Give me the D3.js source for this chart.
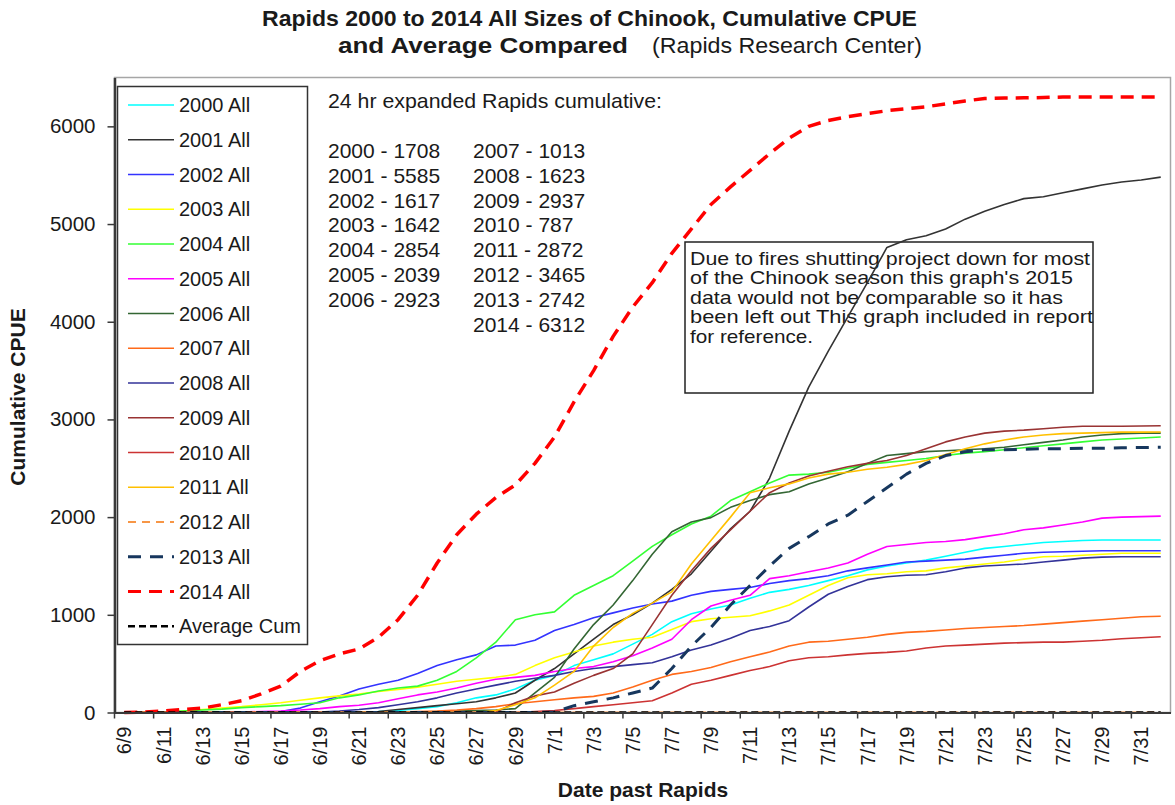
<!DOCTYPE html>
<html>
<head>
<meta charset="utf-8">
<script src="https://cdn.jsdelivr.net/npm/d3@7"></script>
<style>
  body { margin: 0; background: #fff; }
  svg text { font-family: "Liberation Sans", Arial, sans-serif; fill: #1a1a1a; }
</style>
</head>
<body>
<svg id="chart" width="1175" height="805"></svg>
<script>
// categories: days past Rapids, 6/9 .. 8/1
const dates = [
  "6/9","6/10","6/11","6/12","6/13","6/14","6/15","6/16","6/17","6/18","6/19","6/20","6/21","6/22",
  "6/23","6/24","6/25","6/26","6/27","6/28","6/29","6/30",
  "7/1","7/2","7/3","7/4","7/5","7/6","7/7","7/8","7/9","7/10","7/11","7/12","7/13","7/14","7/15",
  "7/16","7/17","7/18","7/19","7/20","7/21","7/22","7/23","7/24","7/25","7/26","7/27","7/28","7/29",
  "7/30","7/31","8/1"
];
// every second day is labelled
const xTickLabels = dates.filter((d, i) => i % 2 === 0 && i < 53);
const yTicks = [0, 1000, 2000, 3000, 4000, 5000, 6000];

// cumulative CPUE per season
const s2000 = [0,0,0,0,0,0,0,0,0,0, 0,0,5,10,20,40,60,100,150,180, 240,330,380,480,540,600,700,800,930,1010,
  1060,1100,1170,1230,1260,1300,1350,1400,1460,1500, 1530,1560,1600,1640,1680,1700,1720,1740,1750,1760, 1765,1765,1765,1765];
const s2001 = [0,0,0,0,0,0,0,0,0,0, 0,0,0,10,30,50,70,90,110,150, 200,330,450,600,750,900,1000,1120,1260,1420,
  1650,1880,2060,2400,2880,3330,3700,4050,4400,4760, 4840,4880,4950,5050,5130,5200,5260,5280,5320,5360, 5400,5430,5450,5480];
const s2002 = [0,0,0,0,0,0,0,0,10,45, 110,170,240,290,330,400,480,540,590,680, 690,740,840,900,970,1020,1070,1110,1140,1200,
  1240,1260,1280,1320,1350,1370,1400,1450,1480,1510, 1540,1550,1560,1570,1590,1610,1630,1640,1645,1650, 1655,1655,1655,1655];
const s2003 = [0,0,5,15,30,45,60,80,100,125, 150,170,190,215,235,260,290,320,340,360, 390,480,560,620,680,720,750,770,850,930,
  960,975,990,1040,1100,1200,1300,1380,1410,1420, 1440,1450,1480,1500,1520,1540,1570,1595,1600,1610, 1620,1630,1630,1630];
const s2004 = [0,0,5,15,25,35,50,60,70,85, 100,150,180,220,250,270,330,420,560,720, 950,1000,1030,1200,1300,1400,1550,1700,1820,1930,
  2010,2170,2260,2350,2430,2440,2460,2500,2540,2560, 2580,2600,2630,2655,2670,2690,2710,2730,2750,2770, 2790,2800,2810,2820];
const s2005 = [0,0,0,0,0,0,5,10,15,25, 40,60,75,100,140,180,210,250,300,340, 360,380,420,450,470,520,580,660,750,950,
  1090,1150,1200,1370,1400,1440,1480,1530,1620,1700, 1720,1740,1750,1770,1800,1830,1870,1890,1920,1950, 1990,2000,2005,2010];
const s2006 = [0,0,0,0,0,0,0,0,0,0, 0,0,0,0,0,5,10,15,20,25, 40,200,360,650,900,1100,1350,1620,1850,1950,
  1995,2100,2170,2230,2260,2340,2400,2465,2550,2630, 2650,2670,2680,2690,2700,2715,2740,2765,2790,2820, 2840,2855,2860,2860];
const s2007 = [0,0,0,0,0,0,0,0,0,0, 0,0,0,0,5,10,15,25,40,60, 90,110,130,150,165,200,260,330,390,420,
  460,520,570,620,680,720,730,750,770,800, 820,830,845,860,870,880,890,905,920,935, 950,965,980,985];
const s2008 = [0,0,0,0,0,0,0,0,0,0, 5,15,30,50,80,110,150,200,240,280, 320,350,380,420,450,470,490,510,570,640,
  690,760,840,880,940,1080,1210,1290,1360,1390, 1405,1410,1440,1480,1500,1510,1520,1540,1560,1580, 1590,1595,1595,1595];
const s2009 = [0,0,0,0,0,0,0,0,0,0, 0,0,0,0,0,0,0,0,0,5, 100,170,210,300,380,450,600,900,1200,1450,
  1680,1870,2060,2250,2350,2420,2470,2515,2550,2580, 2630,2700,2770,2820,2860,2880,2890,2905,2920,2930, 2930,2930,2932,2935];
const s2010 = [0,0,0,0,0,0,0,0,0,0, 0,0,0,0,0,0,0,0,0,0, 0,10,20,40,60,80,100,120,200,290,
  330,380,430,470,530,560,570,590,605,615, 630,660,680,690,700,710,715,720,720,730, 740,755,765,775];
const s2011 = [0,0,0,0,0,0,0,0,0,0, 0,0,0,0,0,0,0,0,0,20, 80,150,280,420,680,870,1015,1120,1235,1520,
  1760,2000,2250,2300,2340,2400,2440,2460,2490,2510, 2540,2580,2640,2700,2750,2790,2820,2840,2855,2860, 2865,2870,2870,2872];
const s2012 = [0,0,0,0,0,0,0,0,0,0, 0,0,0,0,0,0,0,0,0,0, 0,0,0,0,0,0,0,0,0,0,
  0,0,0,0,0,0,0,0,0,0, 0,0,0,0,0,0,0,0,0,0, 0,0,0,0];
const s2013 = [0,0,0,0,0,0,0,0,0,0, 0,0,0,0,0,0,0,0,0,0, 0,0,5,70,110,150,200,250,450,680,
  870,1100,1300,1500,1680,1800,1930,2020,2160,2300, 2440,2550,2630,2670,2690,2690,2695,2700,2700,2705, 2705,2710,2712,2715];
const s2014 = [0,5,15,30,45,80,120,190,270,420, 530,600,650,770,950,1200,1530,1820,2030,2200, 2330,2550,2820,3180,3500,3850,4150,4400,4700,4950,
  5200,5380,5550,5720,5880,6000,6060,6100,6130,6160, 6180,6200,6230,6260,6285,6290,6292,6295,6300,6300, 6300,6300,6300,6300];
const avgCum = [0,0,0,0,0,0,0,0,0,0, 0,0,0,0,0,0,0,0,0,0, 0,0,0,0,0,0,0,0,0,0,
  0,0,0,0,0,0,0,0,0,0, 0,0,0,0,0,0,0,0,0,0, 0,0,0,0];

const seriesNames = ["2000 All","2001 All","2002 All","2003 All","2004 All","2005 All","2006 All","2007 All",
  "2008 All","2009 All","2010 All","2011 All","2012 All","2013 All","2014 All","Average Cum"];
const seriesValues = [s2000,s2001,s2002,s2003,s2004,s2005,s2006,s2007,s2008,s2009,s2010,s2011,s2012,s2013,s2014,avgCum];

// expanded totals shown in the text block
const totalsLeft = ["2000 - 1708","2001 - 5585","2002 - 1617","2003 - 1642","2004 - 2854","2005 - 2039","2006 - 2923"];
const totalsRight = ["2007 - 1013","2008 - 1623","2009 - 2937","2010 - 787","2011 - 2872","2012 - 3465","2013 - 2742","2014 - 6312"];
const noteLines = [
  "Due to fires shutting project down  for most",
  "of the Chinook season this graph's 2015",
  "data would not be comparable so it has",
  "been left out  This graph included in report",
  "for reference."
];
// widths the note lines take up in the box
const noteWidths = [400, 383, 373, 403, 123];

// line styles, one per series
const styles = [
  {color: "#00ffff", width: 1.6, dash: null},
  {color: "#333333", width: 1.6, dash: null},
  {color: "#3333ff", width: 1.6, dash: null},
  {color: "#ffff00", width: 1.6, dash: null},
  {color: "#33ff33", width: 1.6, dash: null},
  {color: "#ff00ff", width: 1.6, dash: null},
  {color: "#336633", width: 1.6, dash: null},
  {color: "#ff6a1a", width: 1.6, dash: null},
  {color: "#333399", width: 1.6, dash: null},
  {color: "#993333", width: 1.6, dash: null},
  {color: "#cc3333", width: 1.6, dash: null},
  {color: "#ffc000", width: 1.6, dash: null},
  {color: "#f79646", width: 2, dash: "8,6"},
  {color: "#17375e", width: 3, dash: "13,9"},
  {color: "#ff0000", width: 3.5, dash: "13,8"},
  {color: "#000000", width: 2.5, dash: "7,4"}
];

const svg = d3.select("#chart");
const plot = {left: 114.5, right: 1170.5, top: 77.5, bottom: 712.5};

const x = d3.scaleBand().domain(dates).range([plot.left, plot.right]).padding(0);
const y = d3.scaleLinear().domain([0, 6500]).range([plot.bottom, plot.top]);
const bw = x.bandwidth();

svg.append("rect").attr("width", 1175).attr("height", 805).attr("fill", "#fff");

// title
svg.append("text")
  .attr("x", 262).attr("y", 26)
  .attr("font-size", "22.5px").attr("font-weight", "bold")
  .attr("textLength", 655).attr("lengthAdjust", "spacingAndGlyphs")
  .text("Rapids 2000 to 2014 All Sizes of Chinook, Cumulative CPUE");
const t2 = svg.append("text")
  .attr("y", 53)
  .attr("font-size", "22.5px");
t2.append("tspan").attr("x", 338).attr("font-weight", "bold")
  .attr("textLength", 290).attr("lengthAdjust", "spacingAndGlyphs")
  .text("and Average Compared");
t2.append("tspan").attr("x", 652)
  .attr("textLength", 270).attr("lengthAdjust", "spacingAndGlyphs")
  .text("(Rapids Research Center)");

// plot frame
svg.append("rect")
  .attr("x", plot.left).attr("y", plot.top)
  .attr("width", plot.right - plot.left).attr("height", plot.bottom - plot.top)
  .attr("fill", "none").attr("stroke", "#a6a6a6").attr("stroke-width", 1.5);

// note box sits under the lines
const note = svg.append("g");
note.append("rect")
  .attr("x", 685).attr("y", 242).attr("width", 408).attr("height", 151)
  .attr("fill", "#fff").attr("stroke", "#222").attr("stroke-width", 1.5);
note.selectAll("text").data(noteLines).join("text")
  .attr("x", 690).attr("y", (d, i) => 265 + i * 19.4)
  .attr("font-size", "19px")
  .attr("textLength", (d, i) => noteWidths[i]).attr("lengthAdjust", "spacingAndGlyphs")
  .text(d => d);

// series lines
const line = d3.line()
  .x((d, i) => x(dates[i]) + bw / 2)
  .y(d => y(d));

svg.append("g").selectAll("path").data(seriesValues).join("path")
  .attr("d", d => line(d))
  .attr("fill", "none")
  .attr("stroke", (d, i) => styles[i].color)
  .attr("stroke-width", (d, i) => styles[i].width)
  .attr("stroke-dasharray", (d, i) => styles[i].dash)
  .attr("stroke-linejoin", "round");

// y axis
const yAxis = svg.append("g")
  .attr("transform", `translate(${plot.left},0)`)
  .call(d3.axisLeft(y).tickValues(yTicks).tickSize(7).tickPadding(12).tickSizeOuter(0).tickFormat(d3.format("d")));
yAxis.select(".domain").attr("stroke", "#3a3a3a").attr("stroke-width", 2.5);
yAxis.selectAll(".tick line").attr("stroke", "#3a3a3a").attr("stroke-width", 1.5);
yAxis.selectAll(".tick text").attr("font-size", "20.5px").attr("fill", "#1a1a1a")
  .attr("font-family", "'Liberation Sans', Arial, sans-serif");

// x axis, ticks sit on category edges
const xAxis = svg.append("g")
  .attr("transform", `translate(0,${plot.bottom})`)
  .call(d3.axisBottom(x).tickValues(xTickLabels).tickSize(6).tickSizeOuter(0));
xAxis.select(".domain").attr("stroke", "#3a3a3a").attr("stroke-width", 2);
xAxis.selectAll(".tick line")
  .attr("x1", -bw / 2).attr("x2", -bw / 2)
  .attr("stroke", "#3a3a3a").attr("stroke-width", 1.5);
xAxis.selectAll(".tick text")
  .attr("transform", "rotate(-90)")
  .attr("text-anchor", "end")
  .attr("x", -14).attr("y", 0).attr("dy", "0.36em")
  .attr("font-size", "20px").attr("fill", "#1a1a1a")
  .attr("font-family", "'Liberation Sans', Arial, sans-serif");

// axis titles
svg.append("text")
  .attr("x", 643).attr("y", 797)
  .attr("text-anchor", "middle")
  .attr("font-size", "21px").attr("font-weight", "bold")
  .text("Date past Rapids");
svg.append("text")
  .attr("transform", "translate(25,397) rotate(-90)")
  .attr("text-anchor", "middle")
  .attr("font-size", "21px").attr("font-weight", "bold")
  .text("Cumulative CPUE");

// totals text block
svg.append("text")
  .attr("x", 328).attr("y", 108)
  .attr("font-size", "21px")
  .attr("textLength", 334).attr("lengthAdjust", "spacingAndGlyphs")
  .text("24 hr expanded Rapids cumulative:");
svg.append("g").selectAll("text").data(totalsLeft).join("text")
  .attr("x", 328).attr("y", (d, i) => 158 + i * 24.8)
  .attr("font-size", "21px").text(d => d);
svg.append("g").selectAll("text").data(totalsRight).join("text")
  .attr("x", 473).attr("y", (d, i) => 158 + i * 24.8)
  .attr("font-size", "21px").text(d => d);

// legend
const legend = svg.append("g");
legend.append("rect")
  .attr("x", 117.5).attr("y", 86.5).attr("width", 190).attr("height", 558)
  .attr("fill", "#fff").attr("stroke", "#333").attr("stroke-width", 1.5);
const items = legend.selectAll("g.item").data(seriesNames).join("g")
  .attr("class", "item")
  .attr("transform", (d, i) => `translate(0,${105 + i * 34.75})`);
items.append("line")
  .attr("x1", 128).attr("x2", 174).attr("y1", 0).attr("y2", 0)
  .attr("stroke", (d, i) => styles[i].color)
  .attr("stroke-width", (d, i) => Math.min(styles[i].width, 3))
  .attr("stroke-dasharray", (d, i) => styles[i].dash);
items.append("text")
  .attr("x", 179).attr("y", 0).attr("dy", "0.36em")
  .attr("font-size", "20px")
  .text(d => d);
</script>
</body>
</html>
